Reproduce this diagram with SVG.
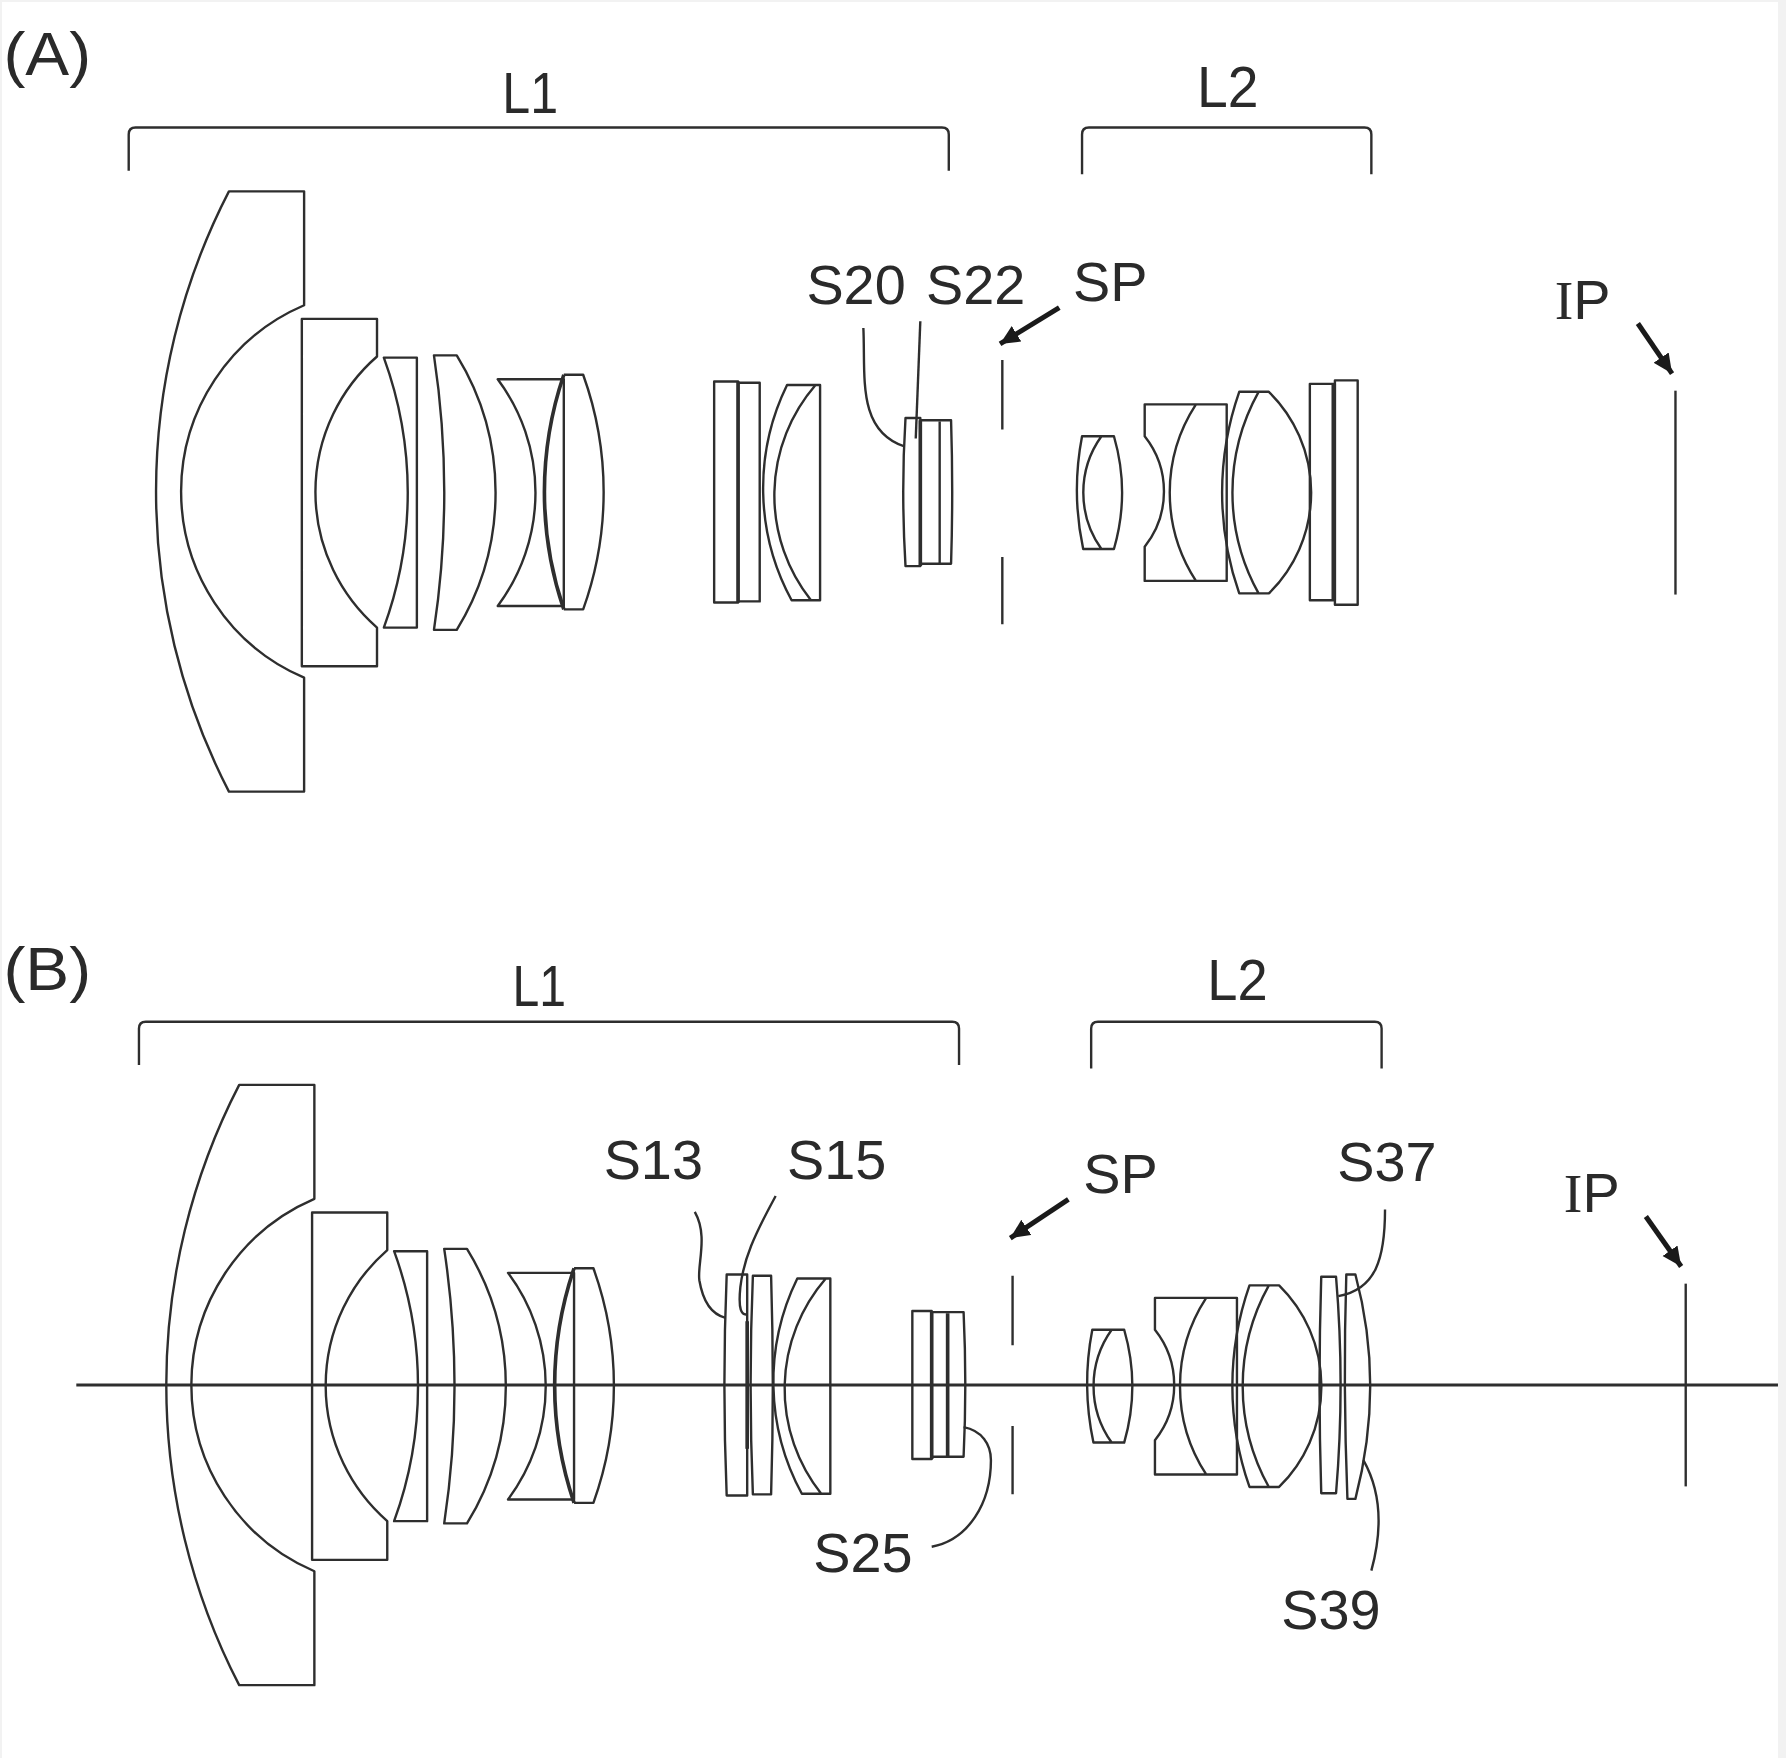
<svg xmlns="http://www.w3.org/2000/svg" width="1786" height="1758" viewBox="0 0 1786 1758">
<style>
.l{fill:none;stroke:#2e2e2e;stroke-width:2.1;stroke-linejoin:round}
.t{stroke-width:3.2}
.a{fill:none;stroke:#1a1a1a;stroke-width:4.4;marker-end:url(#ah)}
text{font-family:"Liberation Sans",Arial,sans-serif;font-size:49px;fill:#2a2a2a}
.big{font-size:54px}
.g{font-size:50px}
.s{font-family:"Liberation Serif",serif}
</style>
<defs>
<marker id="ah" markerUnits="userSpaceOnUse" markerWidth="24" markerHeight="20" refX="17" refY="8" orient="auto"><path d="M0 0L17 8L0 16Z" fill="#1a1a1a"/></marker>
<path id="lens1" d="M201 168H267V268A178 178 0 0 0 159 431A178 178 0 0 0 267 595V695H201A574 574 0 0 1 137 431A574 574 0 0 1 201 168Z"/>
<path id="lens2" d="M265 280H331V313A158 158 0 0 0 331 551V585H265Z"/>
<path id="lens3" d="M337 314H366V551H337A345 345 0 0 0 337 314Z"/>
<path id="lens4" d="M381 312H401A230 230 0 0 1 401 553H381A811 811 0 0 0 381 312Z"/>
<path id="lens5" d="M437 333H495V532H437A166 166 0 0 0 437 333Z"/>
<path id="lens6" d="M495 329H512A304 304 0 0 1 512 535H495"/>
<path id="lens6b" d="M495 329A320 320 0 0 0 495 535"/>
<path id="lens8" d="M691 338H720V527H695A206 206 0 0 1 691 338ZM716 338A148 148 0 0 0 712 527"/>
<path id="lens10" d="M950 383H978A178 178 0 0 1 978 482H951A248 248 0 0 1 950 383ZM967 383A85 85 0 0 0 967 482"/>
<path id="lens11" d="M1005 355H1077V510H1005V480A78 78 0 0 0 1005 383ZM1050 355A142 142 0 0 0 1050 510"/>
<path id="lens12" d="M1088 344H1114A124 124 0 0 1 1114 521H1088A268 268 0 0 1 1088 344ZM1105 344A182 182 0 0 0 1105 521"/>
</defs>
<rect width="1786" height="1758" fill="#f2f2f2"/>
<rect x="2" y="2" width="1776" height="1756" fill="#fff"/>
<g transform="scale(1.139)">
<g id="figure-a-lenses">
<g id="a-l1-1"><use href="#lens1" class="l"/></g>
<g id="a-l1-2"><use href="#lens2" class="l"/></g>
<g id="a-l1-3"><use href="#lens3" class="l"/></g>
<g id="a-l1-4"><use href="#lens4" class="l"/></g>
<g id="a-l1-5"><use href="#lens5" class="l"/></g>
<g id="a-l1-6"><use href="#lens6" class="l"/><use href="#lens6b" class="l t"/></g>
<g id="a-l1-7"><path class="l" d="M627 335H648V529H627Z"/><path class="l" d="M648 336H667V528H648"/><path class="l t" d="M648 335V529"/></g>
<g id="a-l1-8"><use href="#lens8" class="l"/></g>
<g id="a-l1-9"><path class="l" d="M795 367H808V497H795Q791 431 795 367Z"/><path class="l" d="M808 369H835Q837 431 835 495H808"/><path class="l" d="M825 370V495"/><path class="l t" d="M808 369V497"/></g>
<g id="a-stop"><path class="l" d="M880 316V377M880 489V548"/></g>
<g id="a-l2-1"><use href="#lens10" class="l"/></g>
<g id="a-l2-2"><use href="#lens11" class="l"/></g>
<g id="a-l2-3"><use href="#lens12" class="l"/></g>
<g id="a-l2-4"><path class="l" d="M1150 337H1171V527H1150Z"/><path class="l" d="M1172 334H1192V531H1172Z"/><path class="l" style="stroke-width:4" d="M1171 337V527"/></g>
<g id="a-ip"><path class="l" d="M1471 343V522"/></g>
</g>
<g id="figure-b-lenses">
<g id="b-axis"><path class="l" style="stroke-width:2.6" d="M67 1216H1561"/></g>
<g transform="translate(9 784.5)">
<g id="b-l1-1"><use href="#lens1" class="l"/></g>
<g id="b-l1-2"><use href="#lens2" class="l"/></g>
<g id="b-l1-3"><use href="#lens3" class="l"/></g>
<g id="b-l1-4"><use href="#lens4" class="l"/></g>
<g id="b-l1-5"><use href="#lens5" class="l"/></g>
<g id="b-l1-6"><use href="#lens6" class="l"/><use href="#lens6b" class="l t"/></g>
<g id="b-l1-8"><use href="#lens8" class="l"/></g>
<g id="b-l2-1"><use href="#lens10" class="l"/></g>
<g id="b-l2-2"><use href="#lens11" class="l"/></g>
<g id="b-l2-3"><use href="#lens12" class="l"/></g>
</g>
<g id="b-l1-7"><path class="l" d="M638 1119H656V1313H638Q634 1216 638 1119Z"/><path class="l" d="M661 1120H677Q680 1216 677 1312H661Q657 1216 661 1120Z"/><path class="l t" d="M656 1160V1272"/></g>
<g id="b-l1-9"><path class="l" d="M801 1151H818V1281H801Z"/><path class="l" d="M818 1152H846Q849 1216 846 1279H818"/><path class="l t" d="M818 1151V1281M832 1153V1279"/></g>
<g id="b-stop"><path class="l" d="M889 1120V1181M889 1252V1312"/></g>
<g id="b-l2-4"><path class="l" d="M1160 1121H1173Q1181 1216 1173 1311H1160Q1157 1216 1160 1121Z"/></g>
<g id="b-l2-5"><path class="l" d="M1182 1119H1190Q1216 1216 1190 1316H1183Q1179 1216 1182 1119Z"/></g>
<g id="b-ip"><path class="l" d="M1480 1127V1305"/></g>
</g>
<g id="connectors">
<path class="l" d="M113 150V118Q113 112 119 112H827Q833 112 833 118V150"/>
<path class="l" d="M950 153V118Q950 112 956 112H1198Q1204 112 1204 118V153"/>
<path class="l" d="M122 935V903Q122 897 128 897H836Q842 897 842 903V935"/>
<path class="l" d="M958 938V903Q958 897 964 897H1207Q1213 897 1213 903V938"/>
<path class="l" d="M758 288C760 330 752 378 794 392"/>
<path class="l" d="M808 282L804 385"/>
<path class="a" d="M930 270L878 302"/>
<path class="a" d="M1438 284L1468 328"/>
<path class="l" d="M610 1064C622 1085 612 1110 614 1124C617 1142 625 1154 637 1157"/>
<path class="l" d="M681 1050C662 1085 653 1105 650 1130C648 1150 651 1155 656 1154"/>
<path class="l" d="M846 1253C862 1256 870 1268 870 1282C870 1320 850 1352 818 1358"/>
<path class="a" d="M938 1053L887 1087"/>
<path class="l" d="M1216 1062C1216 1105 1208 1132 1175 1138"/>
<path class="l" d="M1197 1282C1210 1305 1216 1335 1204 1379"/>
<path class="a" d="M1445 1068L1476 1112"/>
</g>
<g id="labels">
<text class="big" x="3" y="66" textLength="77" lengthAdjust="spacingAndGlyphs">(A)</text>
<text class="big" x="3" y="869" textLength="77" lengthAdjust="spacingAndGlyphs">(B)</text>
<text class="g" x="441" y="99" textLength="49" lengthAdjust="spacingAndGlyphs">L1</text>
<text class="g" x="1051" y="94" textLength="54" lengthAdjust="spacingAndGlyphs">L2</text>
<text class="g" x="450" y="883" textLength="47" lengthAdjust="spacingAndGlyphs">L1</text>
<text class="g" x="1060" y="878" textLength="53" lengthAdjust="spacingAndGlyphs">L2</text>
<text x="708" y="267">S20</text>
<text x="813" y="267">S22</text>
<text x="942" y="264">SP</text>
<text x="1365" y="280"><tspan class="s">I</tspan>P</text>
<text x="530" y="1035">S13</text>
<text x="691" y="1035">S15</text>
<text x="951" y="1047">SP</text>
<text x="1174" y="1037">S37</text>
<text x="1373" y="1064"><tspan class="s">I</tspan>P</text>
<text x="714" y="1380">S25</text>
<text x="1125" y="1430">S39</text>
</g>
</g>
</svg>
